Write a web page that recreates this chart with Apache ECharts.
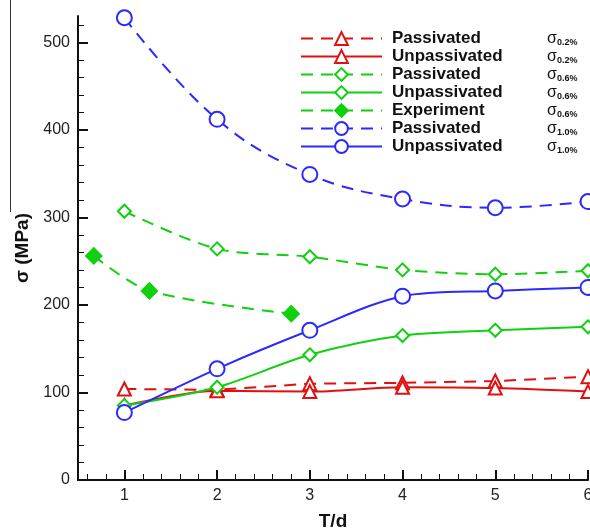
<!DOCTYPE html>
<html><head><meta charset="utf-8">
<script src="https://cdn.jsdelivr.net/npm/echarts@6/dist/echarts.min.js"></script>
<style>html,body{margin:0;padding:0;background:#fff}#c{width:590px;height:531px}</style>
</head><body><div id="c"></div>
<script>
const xCats = [1, 2, 3, 4, 5, 6];
const passivated02 = [104, 103, 110, 111, 113, 118];
const unpassivated02 = [85, 102, 101, 106, 105, 101];
const passivated06 = [307, 264, 255, 240, 235, 239];
const unpassivated06 = [85, 106, 143, 165, 171, 175];
const experimentX = [0.67, 1.27, 2.8];
const experiment06 = [256, 216, 190];
const passivated10 = [528, 412, 349, 321, 311, 318];
const unpassivated10 = [77, 127, 171, 210, 216, 220];
const xTicks = [1, 2, 3, 4, 5, 6];
const xMinorTicks = [0.6, 0.8, 1.2, 1.4, 1.6, 1.8, 2.2, 2.4, 2.6, 2.8, 3.2, 3.4, 3.6, 3.8, 4.2, 4.4, 4.6, 4.8, 5.2, 5.4, 5.6, 5.8];
const yTicks = [0, 100, 200, 300, 400, 500];
const yMinorTicks = [20, 40, 60, 80, 120, 140, 160, 180, 220, 240, 260, 280, 320, 340, 360, 380, 420, 440, 460, 480, 520];
const legendNames = ['Passivated', 'Unpassivated', 'Passivated', 'Unpassivated', 'Experiment', 'Passivated', 'Unpassivated'];
const legendSubs = ['0.2%', '0.2%', '0.6%', '0.6%', '0.6%', '1.0%', '1.0%'];

const RED = '#e01010', GREEN = '#10d010', BLUE = '#2a2aff';
const pair = (xs, ys) => ys.map((v, i) => [xs[i], v]);
const seriesIds = ['p02', 'u02', 'p06', 'u06', 'e06', 'p10', 'u10'];

function mk(id, data, color, dashed, symbol, size, smooth) {
  return {
    name: id, type: 'line', data: data, xAxisIndex: 0, yAxisIndex: 0,
    symbol: symbol, symbolSize: size, smooth: smooth,
    lineStyle: { color: color, width: 2, type: dashed ? [12, 8] : 'solid' },
    itemStyle: { color: color, borderColor: color, borderWidth: 1.5 },
    emphasis: { disabled: true }, clip: false, z: 3
  };
}

const series = [
  mk('p02', pair(xCats, passivated02), RED, true, 'emptyTriangle', 13, false),
  mk('u02', pair(xCats, unpassivated02), RED, false, 'emptyTriangle', 13, 0.3),
  mk('p06', pair(xCats, passivated06), GREEN, true, 'emptyDiamond', 13, 0.3),
  mk('u06', pair(xCats, unpassivated06), GREEN, false, 'emptyDiamond', 13, 0.3),
  mk('e06', pair(experimentX, experiment06), GREEN, true, 'diamond', 16, 0.3),
  mk('p10', pair(xCats, passivated10), BLUE, true, 'emptyCircle', 15, 0.4),
  mk('u10', pair(xCats, unpassivated10), BLUE, false, 'emptyCircle', 15, 0.3)
];

const FONT = 'Liberation Sans, Arial, sans-serif';
const option = {
  animation: false,
  backgroundColor: '#fff',
  grid: { left: 78, right: 2, top: 16, bottom: 51, outerBoundsMode: 'none', containLabel: false },
  legend: {
    data: seriesIds, orient: 'vertical', left: 295, top: 25,
    itemWidth: 81, itemHeight: 16, itemGap: 1,
    selectedMode: false,
    formatter: function (name) {
      const i = seriesIds.indexOf(name);
      return '{n|' + legendNames[i] + '}{s|σ}{sub|' + legendSubs[i] + '}';
    },
    textStyle: {
      fontFamily: FONT,
      rich: {
        n: { fontFamily: FONT, fontWeight: 'bold', fontSize: 17, lineHeight: 16, color: '#111', width: 155, padding: [0, 0, 0, 5] },
        s: { fontFamily: FONT, fontSize: 16, lineHeight: 16, color: '#111' },
        sub: { fontFamily: FONT, fontSize: 9, lineHeight: 16, fontWeight: 'bold', color: '#111', padding: [8, 0, 0, 0] }
      }
    }
  },
  xAxis: [{
    type: 'value', min: 0.5, max: 6,
    name: 'T/d', nameLocation: 'middle', nameGap: 32,
    nameTextStyle: { fontFamily: FONT, fontWeight: 'bold', fontSize: 19, color: '#111' },
    axisLine: { show: true, lineStyle: { color: '#111', width: 2 } },
    axisTick: { show: true, inside: true, length: 10, customValues: xTicks, lineStyle: { color: '#111', width: 2 } },
    axisLabel: { customValues: xTicks, fontFamily: FONT, fontSize: 16, color: '#222', margin: 8 },
    splitLine: { show: false }
  }, {
    type: 'value', min: 0.5, max: 6, position: 'bottom',
    axisLine: { show: false },
    axisTick: { show: true, inside: true, length: 6, customValues: xMinorTicks, lineStyle: { color: '#111', width: 1 } },
    axisLabel: { show: false },
    splitLine: { show: false }
  }],
  yAxis: [{
    type: 'value', min: 0, max: 530,
    name: 'σ (MPa)', nameLocation: 'middle', nameGap: 46,
    nameTextStyle: { fontFamily: FONT, fontWeight: 'bold', fontSize: 19, color: '#111' },
    axisLine: { show: true, lineStyle: { color: '#111', width: 2 } },
    axisTick: { show: true, inside: true, length: 10, customValues: yTicks, lineStyle: { color: '#111', width: 2 } },
    axisLabel: { customValues: yTicks, fontFamily: FONT, fontSize: 16, color: '#222', margin: 8 },
    splitLine: { show: false }
  }, {
    type: 'value', min: 0, max: 530, position: 'left',
    axisLine: { show: false },
    axisTick: { show: true, inside: true, length: 6, customValues: yMinorTicks, lineStyle: { color: '#111', width: 1 } },
    axisLabel: { show: false },
    splitLine: { show: false }
  }],
  graphic: [{
    type: 'line', shape: { x1: 10.5, y1: 0, x2: 10.5, y2: 212 },
    style: { stroke: '#333', lineWidth: 1 }
  }],
  series: series
};
echarts.init(document.getElementById('c')).setOption(option);
</script></body></html>
